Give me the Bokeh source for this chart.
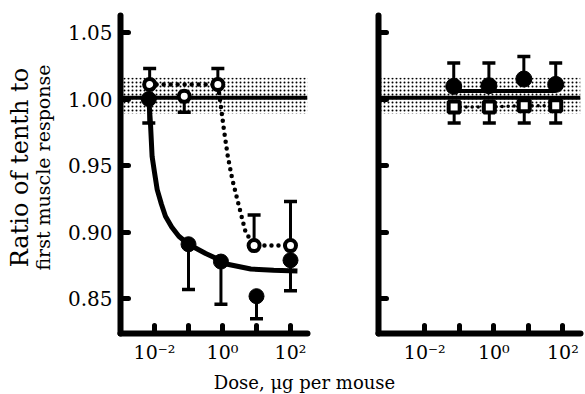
import math
from bokeh.plotting import figure
from bokeh.models import (FixedTicker, CustomJSTickFormatter, PrintfTickFormatter,
                          BoxAnnotation, Span, Label, Range1d)
from bokeh.layouts import row, column
from bokeh.embed import file_html
from bokeh.resources import INLINE

# ---------------- data ----------------
# shaded control band and its centre line
band_lo, band_hi, band_mid = 0.989, 1.016, 1.001

# Left panel, filled circles (solid curve)
L_fill_dose = [0.0068, 0.1, 0.9, 10, 100]
L_fill_ratio = [1.000, 0.891, 0.878, 0.852, 0.879]
L_fill_lo = [0.982, 0.857, 0.846, 0.835, 0.856]
L_fill_hi = [1.000, 0.891, 0.878, 0.852, 0.879]

# Left panel, open circles (dotted curve)
L_open_dose = [0.0072, 0.075, 0.73, 8.5, 100]
L_open_ratio = [1.011, 1.002, 1.011, 0.890, 0.890]
L_open_lo = [1.011, 0.990, 1.011, 0.890, 0.890]
L_open_hi = [1.023, 1.002, 1.023, 0.913, 0.923]

# Left panel, fitted solid curve
L_fit_dose = [0.0068, 0.0076, 0.0085, 0.010, 0.012, 0.016, 0.021, 0.032,
              0.052, 0.10, 0.32, 0.71, 1.4, 6.8, 32, 160]
L_fit_ratio = [1.000, 0.982, 0.957, 0.945, 0.932, 0.921, 0.912, 0.904,
               0.897, 0.891, 0.884, 0.880, 0.876, 0.8724, 0.8715, 0.871]

# Left panel, dotted path through open circles
L_dot_dose = [0.0072, 0.73, 0.87, 1.1, 1.43, 1.93, 2.7, 3.8, 4.8, 8.5, 100]
L_dot_ratio = [1.011, 1.011, 0.997, 0.977, 0.957, 0.940, 0.925, 0.910, 0.900, 0.890, 0.890]

# Right panel, filled circles
R_fill_dose = [0.069, 0.72, 7.4, 62]
R_fill_ratio = [1.0095, 1.010, 1.015, 1.011]
R_fill_hi = [1.027, 1.027, 1.032, 1.027]
R_fit_dose = [0.069, 62]
R_fit_ratio = [1.006, 1.006]

# Right panel, open squares
R_open_dose = [0.071, 0.74, 7.6, 62]
R_open_ratio = [0.994, 0.994, 0.995, 0.995]
R_open_lo = [0.982, 0.982, 0.982, 0.982]

x_ticks = [0.01, 0.1, 1, 10, 100]
y_ticks = [0.85, 0.90, 0.95, 1.00, 1.05]
y_label_1 = "Ratio of tenth to"
y_label_2 = "first muscle response"
x_label = "Dose, \u03bcg per mouse"

FONT = "DejaVu Serif"
Y_RANGE = (0.824, 1.0627)
TOP_H = 366
FRAME_TOP = 15
FRAME_BOTTOM = 333
LABEL_W = 58


def bare_fig(width, height):
    f = figure(width=width, height=height, x_range=Range1d(0, width),
               y_range=Range1d(0, height), output_backend="svg", title=None,
               toolbar_location=None, min_border_left=0, min_border_right=0,
               min_border_top=0, min_border_bottom=0,
               x_axis_location=None, y_axis_location=None)
    f.grid.visible = False
    f.outline_line_color = None
    return f


def make_panel(width, b_left, b_right, x_start, x_end, show_labels):
    p = figure(width=width, height=TOP_H, x_axis_type="log",
               x_range=Range1d(x_start, x_end), y_range=Range1d(*Y_RANGE),
               output_backend="svg", toolbar_location=None, title=None,
               min_border_left=b_left, min_border_right=b_right,
               min_border_top=FRAME_TOP, min_border_bottom=TOP_H - FRAME_BOTTOM)
    p.grid.visible = False
    p.outline_line_color = None
    for ax in (p.xaxis[0], p.yaxis[0]):
        ax.axis_line_width = 6
        ax.axis_line_color = "black"
        ax.axis_line_cap = "round"
        ax.major_tick_in = 8
        ax.major_tick_out = 0
        ax.major_tick_line_width = 5
        ax.major_tick_line_color = "black"
        ax.major_tick_line_cap = "round"
        ax.minor_tick_line_color = None
        ax.major_label_text_font = FONT
        ax.major_label_text_color = "black"
    p.xaxis.ticker = FixedTicker(ticks=x_ticks)
    p.xaxis.formatter = CustomJSTickFormatter(code="""
        const e = Math.round(Math.log10(tick));
        if (e === -2) return '10\u207b\u00b2';
        if (e === 0) return '10\u2070';
        if (e === 2) return '10\u00b2';
        return '';
    """)
    p.xaxis.major_label_text_font_size = "19px"
    p.xaxis.major_label_standoff = 7
    p.yaxis.ticker = FixedTicker(ticks=y_ticks)
    if show_labels:
        p.yaxis.formatter = PrintfTickFormatter(format="%.2f")
    else:
        p.yaxis.formatter = CustomJSTickFormatter(code="return '';")
    p.yaxis.major_label_text_font_size = "20px"
    p.yaxis.major_label_standoff = 8

    band = BoxAnnotation(bottom=band_lo, top=band_hi, fill_alpha=0,
                         line_color=None, hatch_pattern=".", hatch_scale=4,
                         hatch_weight=2.2, hatch_color="black", level="underlay")
    p.add_layout(band)
    span = Span(location=band_mid, dimension="width", line_width=4,
                line_color="black", level="underlay")
    p.add_layout(span)
    return p


def error_bars(p, xs, lo, hi, ref):
    p.segment(x0=xs, y0=lo, x1=xs, y1=hi, line_width=3, line_color="black")
    cx, cy = [], []
    for x, l, h, r in zip(xs, lo, hi, ref):
        if l < r:
            cx.append(x); cy.append(l)
        if h > r:
            cx.append(x); cy.append(h)
    p.scatter(cx, cy, marker="dash", size=13, line_width=3.5, line_color="black")


# ---------------- y-axis title column ----------------
ylab = bare_fig(LABEL_W, TOP_H)
ylab.add_layout(Label(x=19.5, y=TOP_H - 175, text=y_label_1, angle=math.pi / 2,
                      text_align="center", text_baseline="middle", text_font=FONT,
                      text_font_size="24px", text_color="black"))
ylab.add_layout(Label(x=42.5, y=TOP_H - 175, text=y_label_2, angle=math.pi / 2,
                      text_align="center", text_baseline="middle", text_font=FONT,
                      text_font_size="19px", text_color="black"))

# ---------------- left panel ----------------
left = make_panel(330 - LABEL_W, 120 - LABEL_W, 23, 1e-3, 10 ** 2.5, True)
error_bars(left, L_fill_dose, L_fill_lo, L_fill_hi, L_fill_ratio)
error_bars(left, L_open_dose, L_open_lo, L_open_hi, L_open_ratio)
left.line(L_fit_dose, L_fit_ratio, line_width=5, line_color="black", line_join="round")
left.line(L_dot_dose, L_dot_ratio, line_width=4.5, line_color="black",
          line_dash="0 7", line_cap="round")
left.scatter(L_fill_dose, L_fill_ratio, marker="circle", size=15,
             fill_color="black", line_color="black")
left.scatter(L_open_dose, L_open_ratio, marker="circle", size=11, line_width=4,
             fill_color="white", line_color="black")

# ---------------- right panel ----------------
right = make_panel(255, 48, 5, 10 ** -3.34, 10 ** 2.51, False)
right.line(R_fit_dose, R_fit_ratio, line_width=4, line_color="black")
right.line(R_open_dose, R_open_ratio, line_width=3.5, line_color="black",
           line_dash="0 6", line_cap="round")
error_bars(right, R_fill_dose, R_fill_ratio, R_fill_hi, R_fill_ratio)
error_bars(right, R_open_dose, R_open_lo, R_open_ratio, R_open_ratio)
right.scatter(R_fill_dose, R_fill_ratio, marker="circle", size=16,
              fill_color="black", line_color="black")
right.scatter(R_open_dose, R_open_ratio, marker="square", size=11, line_width=4,
              fill_color="white", line_color="black")

# ---------------- shared x-axis title strip ----------------
STRIP_H = 394 - TOP_H
strip = bare_fig(585, STRIP_H)
strip.add_layout(Label(x=304, y=STRIP_H / 2 - 2, text=x_label, text_align="center",
                       text_baseline="middle", text_font=FONT,
                       text_font_size="18px", text_color="black"))

layout = column(row(ylab, left, right), strip)
open("out.html", "w").write(file_html(layout, INLINE))
